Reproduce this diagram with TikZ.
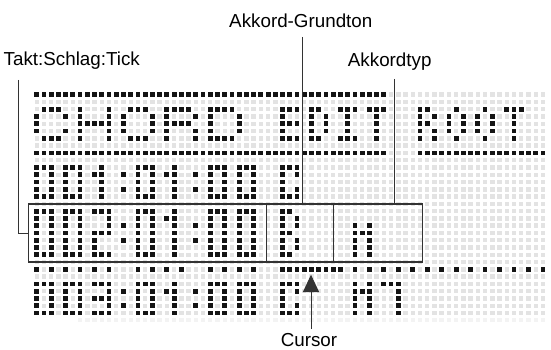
\documentclass[tikz,border=0pt]{standalone}
\usepackage{fontspec}
\setmainfont{Liberation Sans}
\usetikzlibrary{arrows.meta}
\definecolor{litc}{HTML}{141414}
\definecolor{offc}{HTML}{E3E3E3}
\definecolor{fadec}{HTML}{F3F3F3}
\definecolor{linec}{HTML}{333333}
\newcommand\lcddot[3]{\fill[#3] ({36.7+7.232*(#1)-2.2},{94.7+7.277*(#2)-2.2}) rectangle ++(4.4,4.4);}
\newcommand\lcdlit[2]{\fill[litc] ({36.7+7.232*(#1)-2.4},{94.7+7.277*(#2)-2.4}) rectangle ++(4.8,4.8);}
\newcommand\lcdglyph[3]{\foreach \gx/\gy in #1 {\lcdlit{#2+\gx}{#3+\gy}}}
\def\lcdgCfive{1/0,2/0,3/0,0/1,4/1,0/2,0/3,4/3,1/4,2/4,3/4}
\def\lcdgHfive{0/0,4/0,0/1,4/1,0/2,1/2,2/2,3/2,4/2,0/3,4/3,0/4,4/4}
\def\lcdgOfive{1/0,2/0,3/0,0/1,4/1,0/2,4/2,0/3,4/3,1/4,2/4,3/4}
\def\lcdgRfive{0/0,1/0,2/0,3/0,0/1,4/1,0/2,1/2,2/2,3/2,0/3,4/3,0/4,4/4}
\def\lcdgDfive{0/0,1/0,2/0,3/0,0/1,4/1,0/2,4/2,0/3,4/3,0/4,1/4,2/4,3/4}
\def\lcdgE{0/0,1/0,2/0,0/1,0/2,1/2,2/2,0/3,0/4,1/4,2/4}
\def\lcdgD{0/0,1/0,0/1,2/1,0/2,2/2,0/3,2/3,0/4,1/4}
\def\lcdgI{0/0,1/0,2/0,1/1,1/2,1/3,0/4,1/4,2/4}
\def\lcdgT{0/0,1/0,2/0,1/1,1/2,1/3,1/4}
\def\lcdgR{0/0,1/0,0/1,2/1,0/2,1/2,0/3,2/3,0/4,2/4}
\def\lcdgO{1/0,0/1,2/1,0/2,2/2,0/3,2/3,1/4}
\def\lcdgC{0/0,1/0,2/0,0/1,2/1,0/2,0/3,2/3,0/4,1/4,2/4}
\def\lcdgzero{0/0,1/0,2/0,0/1,2/1,0/2,2/2,0/3,2/3,0/4,1/4,2/4}
\def\lcdgone{1/0,0/1,1/1,1/2,1/3,1/4}
\def\lcdgthree{0/0,1/0,2/0,2/1,0/2,1/2,2/2,2/3,0/4,1/4,2/4}
\def\lcdgcolon{0/1,0/3}
\def\lcdgM{0/0,2/0,0/1,1/1,2/1,0/2,2/2,0/3,2/3,0/4,2/4}
\def\lcdgseven{0/0,1/0,2/0,2/1,2/2,2/3,2/4}
\def\lcdgzeroL{0/0,1/0,2/0,0/1,2/1,0/2,2/2,0/3,2/3,0/4,2/4,0/5,2/5,0/6,1/6,2/6}
\def\lcdgtwoL{0/0,1/0,2/0,2/1,2/2,0/3,1/3,2/3,0/4,0/5,0/6,1/6,2/6}
\def\lcdgoneL{1/0,0/1,1/1,1/2,1/3,1/4,1/5,1/6}
\def\lcdgcolonL{0/2,0/4}
\def\lcdgB{0/0,1/0,0/1,2/1,0/2,2/2,0/3,1/3,0/4,2/4,0/5,2/5,0/6,1/6}
\begin{document}
\begin{tikzpicture}[x=1pt,y=-1pt,
  lbl/.style={font=\fontsize{18.8}{22}\selectfont, inner sep=0pt, text=black},
  boxst/.style={draw=linec, line width=1.3pt, minimum height=58pt, inner sep=0pt},
  conn/.style={draw=linec, line width=1pt}]
\useasboundingbox (0,0) rectangle (551,350);
% unlit dots
\foreach \c in {0,...,70} {\foreach \r in {0,...,30} {\lcddot{\c}{\r}{offc}}}
\foreach \c in {6,...,70} {\lcddot{\c}{31}{fadec}}
% bars
\foreach \c in {0,...,48} {\lcdlit{\c}{0}\lcdlit{\c}{8}}
\foreach \c in {53,...,70} {\lcdlit{\c}{8}}
\foreach \c in {0,2,4,6,8,10,14,16,18,20,24,26,28,30,34,35,...,42,44,46,...,70} {\lcdlit{\c}{24}}
% header CHORD EDIT ROOT
\lcdglyph{\lcdgCfive}{0}{2}
\lcdglyph{\lcdgHfive}{6}{2}
\lcdglyph{\lcdgOfive}{12}{2}
\lcdglyph{\lcdgRfive}{18}{2}
\lcdglyph{\lcdgDfive}{24}{2}
\lcdglyph{\lcdgE}{34}{2}
\lcdglyph{\lcdgD}{38}{2}
\lcdglyph{\lcdgI}{42}{2}
\lcdglyph{\lcdgT}{46}{2}
\lcdglyph{\lcdgR}{53}{2}
\lcdglyph{\lcdgO}{57}{2}
\lcdglyph{\lcdgO}{61}{2}
\lcdglyph{\lcdgT}{65}{2}
% 001:01:00 C
\lcdglyph{\lcdgzero}{0}{10}
\lcdglyph{\lcdgzero}{4}{10}
\lcdglyph{\lcdgone}{8}{10}
\lcdglyph{\lcdgcolon}{12}{10}
\lcdglyph{\lcdgzero}{14}{10}
\lcdglyph{\lcdgone}{18}{10}
\lcdglyph{\lcdgcolon}{22}{10}
\lcdglyph{\lcdgzero}{24}{10}
\lcdglyph{\lcdgzero}{28}{10}
\lcdglyph{\lcdgC}{34}{10}
% 002:01:00 B M
\lcdglyph{\lcdgzeroL}{0}{16}
\lcdglyph{\lcdgzeroL}{4}{16}
\lcdglyph{\lcdgtwoL}{8}{16}
\lcdglyph{\lcdgcolonL}{12}{16}
\lcdglyph{\lcdgzeroL}{14}{16}
\lcdglyph{\lcdgoneL}{18}{16}
\lcdglyph{\lcdgcolonL}{22}{16}
\lcdglyph{\lcdgzeroL}{24}{16}
\lcdglyph{\lcdgzeroL}{28}{16}
\lcdglyph{\lcdgB}{34}{16}
\lcdglyph{\lcdgM}{44}{18}
% 003:01:00 C M7
\lcdglyph{\lcdgzero}{0}{26}
\lcdglyph{\lcdgzero}{4}{26}
\lcdglyph{\lcdgthree}{8}{26}
\lcdglyph{\lcdgcolon}{12}{26}
\lcdglyph{\lcdgzero}{14}{26}
\lcdglyph{\lcdgone}{18}{26}
\lcdglyph{\lcdgcolon}{22}{26}
\lcdglyph{\lcdgzero}{24}{26}
\lcdglyph{\lcdgzero}{28}{26}
\lcdglyph{\lcdgC}{34}{26}
\lcdglyph{\lcdgM}{44}{26}
\lcdglyph{\lcdgseven}{48}{26}
% boxes
\node[boxst, minimum width=238.4pt] (b1) at (147.5,233) {};
\node[boxst, minimum width=66.6pt] (b2) at (300,233) {};
\node[boxst, minimum width=89pt] (b3) at (377.8,233) {};
% labels
\node[lbl, anchor=base west] (takt) at (3.5,66) {Takt:Schlag:Tick};
\node[lbl, anchor=base] (grund) at (300.8,28) {Akkord-Grundton};
\node[lbl, anchor=base] (typ) at (389.7,67) {Akkordtyp};
\node[lbl, anchor=base] (cur) at (309,346) {Cursor};
% connectors
\coordinate (taktTop) at (18.3,80);
\coordinate (grundTop) at (302.7,37);
\coordinate (typTop) at (394.3,79);
\coordinate (curBot) at (311,329);
\coordinate (curTip) at (311,274.7);
\draw[conn] (taktTop) |- (b1.west);
\draw[conn] (grundTop) -- (grundTop |- b2.north);
\draw[conn] (typTop) -- (typTop |- b3.north);
\draw[conn, -{Triangle[width=16pt,length=17.3pt]}] (curBot) -- (curTip);
\end{tikzpicture}
\end{document}
